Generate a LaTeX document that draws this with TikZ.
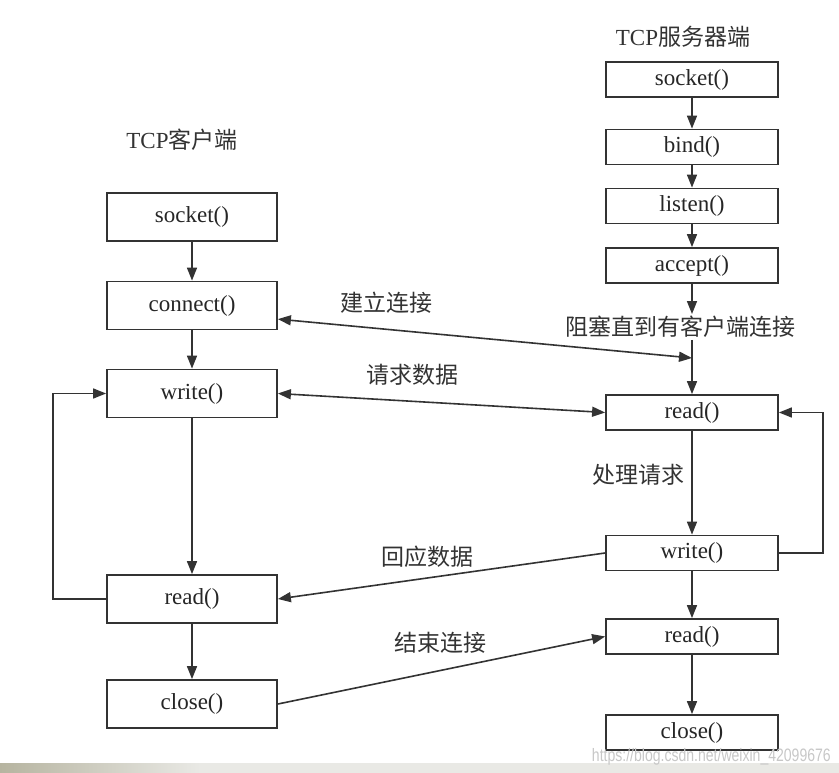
\documentclass[tikz,border=0pt]{standalone}
\usepackage{fontspec}
\setmainfont{Liberation Serif}
\newfontfamily\cjkfont{Noto Sans CJK SC}
\newfontfamily\wmfont[FakeStretch=0.78]{Liberation Sans}
\usepackage{tikz}
\usetikzlibrary{arrows.meta}
\definecolor{stripdark}{RGB}{182,180,160}
\definecolor{striplight}{RGB}{233,233,229}

\begin{document}
\begin{tikzpicture}[x=1pt,y=-1pt,
		box/.style={draw=black!80,line width=1.8pt,fill=white,text=black!85,inner sep=0pt,
			font=\fontsize{23}{23}\selectfont},
		cbox/.style={box,minimum width=170pt,minimum height=48pt},
		sbox/.style={box,minimum width=172pt,minimum height=35pt},
		lab/.style={text=black!80,inner sep=2pt,font=\cjkfont\fontsize{23}{23}\selectfont},
		tip/.tip={Triangle[length=13pt,width=10pt]},
		arr/.style={draw=black!80,line width=1.6pt,-tip},
		darr/.style={arr,tip-tip}]
		\useasboundingbox (0,0) rectangle (839,773);
		\shade[left color=stripdark,right color=striplight] (0,763) rectangle (200,773);
		\fill[striplight] (200,763) rectangle (839,773);
		% client side
		\node[lab,font=\fontsize{23}{23}\selectfont] (ctitle) at (182,140) {TCP{\cjkfont 客户端}};
		\node[cbox] (csocket) at (192,217) {socket()};
		\node[cbox] (cconnect) at (192,305.5) {connect()};
		\node[cbox] (cwrite) at (192,393.5) {write()};
		\node[cbox] (cread) at (192,599) {read()};
		\node[cbox] (cclose) at (192,704) {close()};
		% server side
		\node[lab,font=\fontsize{23}{23}\selectfont] (stitle) at (683,37) {TCP{\cjkfont 服务器端}};
		\node[sbox] (ssocket) at (692,79.5) {socket()};
		\node[sbox] (sbind) at (692,147) {bind()};
		\node[sbox] (slisten) at (692,206) {listen()};
		\node[sbox] (saccept) at (692,265.5) {accept()};
		\node[lab] (wait) at (680,327) {阻塞直到有客户端连接};
		\node[sbox] (sread) at (692,412.5) {read()};
		\node[sbox] (swrite) at (692,553) {write()};
		\node[sbox] (sread2) at (692,636.5) {read()};
		\node[sbox] (sclose) at (692,732.5) {close()};
		\coordinate (join) at (692,358);
		% labels
		\node[lab] (lconn) at (386,303) {建立连接};
		\node[lab] (lreq) at (412,375) {请求数据};
		\node[lab] (lproc) at (638,475) {处理请求};
		\node[lab] (lresp) at (427,557) {回应数据};
		\node[lab] (lend) at (440,643) {结束连接};
		\node[font=\wmfont\fontsize{18}{18}\selectfont,text=black!22,anchor=east,inner sep=0pt] (wm)
			at (831,757) {https://blog.csdn.net/weixin\_42099676};
		% client flow
		\draw[arr] (csocket) -- (cconnect);
		\draw[arr] (cconnect) -- (cwrite);
		\draw[arr] (cwrite) -- (cread);
		\draw[arr] (cread) -- (cclose);
		\draw[arr] (cread.west) -- ++(-53,0) |- (cwrite.west);
		% server flow
		\draw[arr] (ssocket) -- (sbind);
		\draw[arr] (sbind) -- (slisten);
		\draw[arr] (slisten) -- (saccept);
		\draw[arr] (saccept) -- (saccept |- wait.north);
		\draw[arr] (saccept |- wait.south) -- (sread.north);
		\draw[arr] (sread) -- (swrite);
		\draw[arr] (swrite) -- (sread2);
		\draw[arr] (sread2) -- (sclose);
		\draw[arr] (swrite.east) -- ++(44,0) |- (sread.east);
		% between the two
		\draw[darr] (cconnect.-9) -- (join);
		\draw[darr] (cwrite.east) -- (sread.west);
		\draw[arr] (swrite.west) -- (cread.east);
		\draw[arr] (cclose.east) -- (sread2.west);
	\end{tikzpicture}
\end{document}
